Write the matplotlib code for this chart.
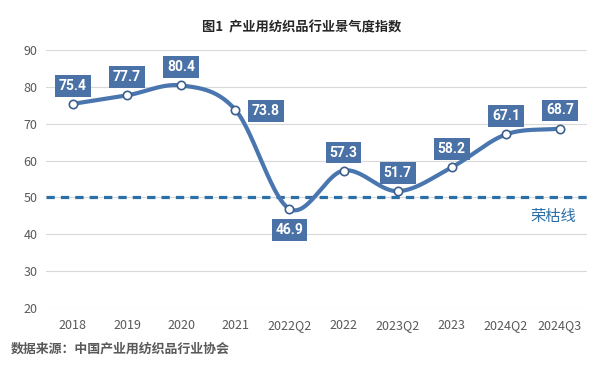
import matplotlib.pyplot as plt
import numpy as np

plt.rcParams['font.family'] = ['Noto Sans CJK SC', 'DejaVu Sans']

categories = ['2018', '2019', '2020', '2021', '2022Q2', '2022', '2023Q2', '2023', '2024Q2', '2024Q3']
values = [75.4, 77.7, 80.4, 73.8, 46.9, 57.3, 51.7, 58.2, 67.1, 68.7]
threshold = 50
y_ticks = [20, 30, 40, 50, 60, 70, 80, 90]

LINE_COLOR = '#4a76b0'
BOX_COLOR = '#4a72a6'
DASH_COLOR = '#2a6fa8'


def smooth_curve(x, y, n=30):
    # Catmull-Rom style smoothing like the spreadsheet's smoothed line
    x = np.asarray(x, float)
    y = np.asarray(y, float)
    px = np.concatenate([[2 * x[0] - x[1]], x, [2 * x[-1] - x[-2]]])
    py = np.concatenate([[2 * y[0] - y[1]], y, [2 * y[-1] - y[-2]]])
    xs, ys = [], []
    t = np.linspace(0, 1, n)
    for i in range(1, len(px) - 2):
        for arr, out in ((px, xs), (py, ys)):
            p0, p1, p2, p3 = arr[i - 1], arr[i], arr[i + 1], arr[i + 2]
            out.append(0.5 * ((2 * p1) + (-p0 + p2) * t
                              + (2 * p0 - 5 * p1 + 4 * p2 - p3) * t ** 2
                              + (-p0 + 3 * p1 - 3 * p2 + p3) * t ** 3))
    return np.concatenate(xs), np.concatenate(ys)


fig = plt.figure(figsize=(6.04, 3.68), dpi=100)
ax = fig.add_axes([0.076, 0.163, 0.896, 0.701])

x = np.arange(len(categories))
sx, sy = smooth_curve(x, values)

ax.axhline(threshold, color=DASH_COLOR, lw=2.3, ls=(0, (2.6, 1.9)), zorder=2)
ax.plot(sx, sy, color=LINE_COLOR, lw=3, zorder=3, solid_capstyle='round')
ax.plot(x, values, 'o', ms=6, mfc='white', mec='#3d5f8c', mew=1.2, zorder=4)

# label placement: offsets in points
offsets = {3: (22, -1), 4: (0, -15)}
for i, v in enumerate(values):
    dx, dy = offsets.get(i, (0, 13))
    ax.annotate(f'{v:.1f}', (i, v), xytext=(dx, dy), textcoords='offset points',
                ha='center', va='center', color='white', fontsize=10, fontweight='bold',
                family=['Roboto', 'DejaVu Sans'],
                bbox=dict(boxstyle='square,pad=0.28', fc=BOX_COLOR, ec='none'), zorder=5)

ax.text(9.3, threshold - 2.8, '荣枯线', color=DASH_COLOR,
        fontsize=11, ha='right', va='top')

ax.set_xlim(-0.5, len(categories) - 0.5)
ax.set_ylim(20, 90)
ax.set_yticks(y_ticks)
ax.set_xticks(x)
ax.set_xticklabels(categories)
ax.grid(axis='y', color='#d9d9d9', lw=0.8)
ax.set_axisbelow(True)
for s in ax.spines.values():
    s.set_visible(False)
ax.tick_params(length=0, colors='#595959', labelsize=9)
ax.tick_params(axis='x', pad=8)
ax.tick_params(axis='y', pad=6)

fig.text(0.5, 0.925, '图1  产业用纺织品行业景气度指数', ha='center', va='center',
         fontsize=9.5, fontweight='bold', color='#262626')
fig.text(0.018, 0.052, '数据来源：中国产业用纺织品行业协会', ha='left', va='center',
         fontsize=9.3, fontweight='bold', color='#595959')

fig.savefig('out.png', dpi=100)
